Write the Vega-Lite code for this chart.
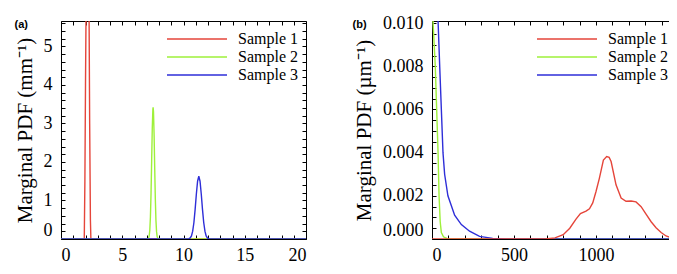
{
  "$schema": "https://vega.github.io/schema/vega-lite/v6.json",
  "padding": {"left": 14, "top": 14, "right": 0, "bottom": 0},
  "spacing": 45,
  "datasets": {
    "a": [
      {"sample": "Sample 1", "x": 0, "y": 0},
      {"sample": "Sample 1", "x": 1.9, "y": 0},
      {"sample": "Sample 1", "x": 1.95, "y": 1.5},
      {"sample": "Sample 1", "x": 2.0, "y": 4},
      {"sample": "Sample 1", "x": 2.06, "y": 6.5},
      {"sample": "Sample 1", "x": 2.12, "y": 8},
      {"sample": "Sample 1", "x": 2.2, "y": 8},
      {"sample": "Sample 1", "x": 2.28, "y": 6.5},
      {"sample": "Sample 1", "x": 2.34, "y": 3},
      {"sample": "Sample 1", "x": 2.4, "y": 0.5},
      {"sample": "Sample 1", "x": 2.44, "y": 0},
      {"sample": "Sample 1", "x": 20, "y": 0},
      {"sample": "Sample 2", "x": 0, "y": 0},
      {"sample": "Sample 2", "x": 7.0, "y": 0},
      {"sample": "Sample 2", "x": 7.1, "y": 0.005},
      {"sample": "Sample 2", "x": 7.15, "y": 0.022},
      {"sample": "Sample 2", "x": 7.2, "y": 0.079},
      {"sample": "Sample 2", "x": 7.25, "y": 0.234},
      {"sample": "Sample 2", "x": 7.3, "y": 0.577},
      {"sample": "Sample 2", "x": 7.35, "y": 1.18},
      {"sample": "Sample 2", "x": 7.4, "y": 2.01},
      {"sample": "Sample 2", "x": 7.45, "y": 2.86},
      {"sample": "Sample 2", "x": 7.5, "y": 3.37},
      {"sample": "Sample 2", "x": 7.52, "y": 3.42},
      {"sample": "Sample 2", "x": 7.55, "y": 3.31},
      {"sample": "Sample 2", "x": 7.6, "y": 2.7},
      {"sample": "Sample 2", "x": 7.65, "y": 1.84},
      {"sample": "Sample 2", "x": 7.7, "y": 1.04},
      {"sample": "Sample 2", "x": 7.75, "y": 0.489},
      {"sample": "Sample 2", "x": 7.8, "y": 0.191},
      {"sample": "Sample 2", "x": 7.85, "y": 0.062},
      {"sample": "Sample 2", "x": 7.9, "y": 0.017},
      {"sample": "Sample 2", "x": 7.95, "y": 0.004},
      {"sample": "Sample 2", "x": 8.05, "y": 0},
      {"sample": "Sample 2", "x": 20, "y": 0},
      {"sample": "Sample 3", "x": 0, "y": 0},
      {"sample": "Sample 3", "x": 10.1, "y": 0},
      {"sample": "Sample 3", "x": 10.25, "y": 0.0004},
      {"sample": "Sample 3", "x": 10.45, "y": 0.0078},
      {"sample": "Sample 3", "x": 10.55, "y": 0.027},
      {"sample": "Sample 3", "x": 10.65, "y": 0.081},
      {"sample": "Sample 3", "x": 10.75, "y": 0.202},
      {"sample": "Sample 3", "x": 10.85, "y": 0.429},
      {"sample": "Sample 3", "x": 10.95, "y": 0.769},
      {"sample": "Sample 3", "x": 11.05, "y": 1.167},
      {"sample": "Sample 3", "x": 11.15, "y": 1.5},
      {"sample": "Sample 3", "x": 11.25, "y": 1.63},
      {"sample": "Sample 3", "x": 11.35, "y": 1.5},
      {"sample": "Sample 3", "x": 11.45, "y": 1.167},
      {"sample": "Sample 3", "x": 11.55, "y": 0.769},
      {"sample": "Sample 3", "x": 11.65, "y": 0.429},
      {"sample": "Sample 3", "x": 11.75, "y": 0.202},
      {"sample": "Sample 3", "x": 11.85, "y": 0.081},
      {"sample": "Sample 3", "x": 11.95, "y": 0.027},
      {"sample": "Sample 3", "x": 12.05, "y": 0.0078},
      {"sample": "Sample 3", "x": 12.25, "y": 0.0004},
      {"sample": "Sample 3", "x": 12.4, "y": 0},
      {"sample": "Sample 3", "x": 20, "y": 0}
    ],
    "b": [
      {"sample": "Sample 2", "x": 0, "y": 0.03},
      {"sample": "Sample 2", "x": 6, "y": 0.0101},
      {"sample": "Sample 2", "x": 20, "y": 0.008},
      {"sample": "Sample 2", "x": 37, "y": 0.004},
      {"sample": "Sample 2", "x": 43, "y": 0.002},
      {"sample": "Sample 2", "x": 50, "y": 0.0008},
      {"sample": "Sample 2", "x": 57, "y": 0.0003},
      {"sample": "Sample 2", "x": 70, "y": 0.0001},
      {"sample": "Sample 2", "x": 97, "y": 0},
      {"sample": "Sample 2", "x": 1500, "y": 0},
      {"sample": "Sample 3", "x": 0, "y": 0.06},
      {"sample": "Sample 3", "x": 20, "y": 0.03},
      {"sample": "Sample 3", "x": 37, "y": 0.0101},
      {"sample": "Sample 3", "x": 47, "y": 0.008},
      {"sample": "Sample 3", "x": 57, "y": 0.006},
      {"sample": "Sample 3", "x": 67, "y": 0.004},
      {"sample": "Sample 3", "x": 77, "y": 0.003},
      {"sample": "Sample 3", "x": 97, "y": 0.002},
      {"sample": "Sample 3", "x": 138, "y": 0.0011},
      {"sample": "Sample 3", "x": 179, "y": 0.00067},
      {"sample": "Sample 3", "x": 229, "y": 0.00036},
      {"sample": "Sample 3", "x": 290, "y": 0.00012},
      {"sample": "Sample 3", "x": 370, "y": 0.00003},
      {"sample": "Sample 3", "x": 450, "y": 0},
      {"sample": "Sample 3", "x": 1500, "y": 0},
      {"sample": "Sample 1", "x": 0, "y": 0},
      {"sample": "Sample 1", "x": 690, "y": 0},
      {"sample": "Sample 1", "x": 750, "y": 0.00005},
      {"sample": "Sample 1", "x": 800, "y": 0.0002},
      {"sample": "Sample 1", "x": 840, "y": 0.0005},
      {"sample": "Sample 1", "x": 878, "y": 0.00092},
      {"sample": "Sample 1", "x": 905, "y": 0.00118},
      {"sample": "Sample 1", "x": 939, "y": 0.00129},
      {"sample": "Sample 1", "x": 960, "y": 0.0014},
      {"sample": "Sample 1", "x": 980, "y": 0.00167},
      {"sample": "Sample 1", "x": 1000, "y": 0.0022},
      {"sample": "Sample 1", "x": 1020, "y": 0.0028},
      {"sample": "Sample 1", "x": 1045, "y": 0.00366},
      {"sample": "Sample 1", "x": 1065, "y": 0.00382},
      {"sample": "Sample 1", "x": 1080, "y": 0.00378},
      {"sample": "Sample 1", "x": 1092, "y": 0.00359},
      {"sample": "Sample 1", "x": 1122, "y": 0.00251},
      {"sample": "Sample 1", "x": 1153, "y": 0.0019},
      {"sample": "Sample 1", "x": 1183, "y": 0.00175},
      {"sample": "Sample 1", "x": 1214, "y": 0.00176},
      {"sample": "Sample 1", "x": 1244, "y": 0.00172},
      {"sample": "Sample 1", "x": 1275, "y": 0.0015},
      {"sample": "Sample 1", "x": 1305, "y": 0.00115},
      {"sample": "Sample 1", "x": 1336, "y": 0.0008},
      {"sample": "Sample 1", "x": 1366, "y": 0.00052},
      {"sample": "Sample 1", "x": 1397, "y": 0.0003},
      {"sample": "Sample 1", "x": 1427, "y": 0.00014},
      {"sample": "Sample 1", "x": 1460, "y": 0.00005},
      {"sample": "Sample 1", "x": 1500, "y": 0.00001}
    ]
  },
  "resolve": {"scale": {"color": "independent"}, "legend": {"color": "independent"}},
  "hconcat": [
    {
      "width": 245,
      "height": 218,
      "data": {"name": "a"},
      "resolve": {"axis": {"x": "independent", "y": "independent"}},
      "layer": [
        {
          "mark": {"type": "line", "clip": true, "strokeWidth": 1.4},
          "encoding": {
            "x": {"field": "x", "type": "quantitative", "scale": {"domain": [0, 20], "nice": false, "zero": false},
              "axis": {"title": null, "values": [0,1,2,3,4,5,6,7,8,9,10,11,12,13,14,15,16,17,18,19,20],
                "labelExpr": "datum.value % 5 === 0 ? datum.label : ''",
                "labelPadding": 11}},
            "y": {"field": "y", "type": "quantitative", "scale": {"domain": [0, 5.66], "nice": false},
              "axis": {"title": "Marginal PDF (mm⁻¹)",
                "values": [0,0.2,0.4,0.6,0.8,1,1.2,1.4,1.6,1.8,2,2.2,2.4,2.6,2.8,3,3.2,3.4,3.6,3.8,4,4.2,4.4,4.6,4.8,5,5.2,5.4,5.6],
                "labelExpr": "abs(datum.value - round(datum.value)) < 0.001 ? format(datum.value, 'd') : ''",
                "labelFlush": true, "labelPadding": 13, "titlePadding": 8}},
            "color": {"field": "sample", "type": "nominal",
              "scale": {"domain": ["Sample 1", "Sample 2", "Sample 3"], "range": ["#e5453a", "#9ef03a", "#2e2ed8"]},
              "legend": {"legendX": 127, "legendY": 9}}
          }
        },
        {
          "mark": {"type": "line", "opacity": 0, "clip": true},
          "encoding": {
            "x": {"field": "x", "type": "quantitative", "scale": {"domain": [0, 20], "nice": false, "zero": false},
              "axis": {"orient": "top", "title": "(a)", "titleX": -47, "titleY": 3, "titleAlign": "left", "titleBaseline": "middle", "titleFont": "Liberation Sans", "titleFontSize": 11, "titleFontWeight": "bold",
                "labels": false, "values": [0,1,2,3,4,5,6,7,8,9,10,11,12,13,14,15,16,17,18,19,20]}},
            "y": {"field": "y", "type": "quantitative", "scale": {"domain": [0, 5.66], "nice": false},
              "axis": {"orient": "right", "title": null, "labels": false,
                "values": [0,0.2,0.4,0.6,0.8,1,1.2,1.4,1.6,1.8,2,2.2,2.4,2.6,2.8,3,3.2,3.4,3.6,3.8,4,4.2,4.4,4.6,4.8,5,5.2,5.4,5.6]}}
          }
        }
      ]
    },
    {
      "width": 237,
      "height": 218,
      "data": {"name": "b"},
      "resolve": {"axis": {"x": "independent", "y": "independent"}},
      "layer": [
        {
          "mark": {"type": "line", "clip": true, "strokeWidth": 1.4},
          "encoding": {
            "x": {"field": "x", "type": "quantitative", "scale": {"domain": [0, 1445], "nice": false, "zero": false},
              "axis": {"title": null, "values": [0,100,200,300,400,500,600,700,800,900,1000,1100,1200,1300,1400],
                "labelExpr": "datum.value % 500 === 0 ? datum.label : ''",
                "format": "d",
                "labelPadding": 11}},
            "y": {"field": "y", "type": "quantitative", "scale": {"domain": [0, 0.0101], "nice": false},
              "axis": {"title": "Marginal PDF (µm⁻¹)",
                "values": [0,0.0005,0.001,0.0015,0.002,0.0025,0.003,0.0035,0.004,0.0045,0.005,0.0055,0.006,0.0065,0.007,0.0075,0.008,0.0085,0.009,0.0095,0.01],
                "labelExpr": "abs(datum.value/0.002 - round(datum.value/0.002)) < 0.01 ? format(datum.value, '.3f') : ''",
                "labelFlush": true, "labelPadding": 13, "titlePadding": 8}},
            "color": {"field": "sample", "type": "nominal",
              "scale": {"domain": ["Sample 1", "Sample 2", "Sample 3"], "range": ["#e5453a", "#9ef03a", "#2e2ed8"]},
              "legend": {"legendX": 126, "legendY": 9}}
          }
        },
        {
          "mark": {"type": "line", "opacity": 0, "clip": true},
          "encoding": {
            "x": {"field": "x", "type": "quantitative", "scale": {"domain": [0, 1445], "nice": false, "zero": false},
              "axis": {"orient": "top", "title": "(b)", "titleX": -80, "titleY": 3, "titleAlign": "left", "titleBaseline": "middle", "titleFont": "Liberation Sans", "titleFontSize": 11, "titleFontWeight": "bold",
                "labels": false, "values": [0,100,200,300,400,500,600,700,800,900,1000,1100,1200,1300,1400]}},
            "y": {"field": "y", "type": "quantitative", "scale": {"domain": [0, 0.0101], "nice": false}, "axis": null}
          }
        }
      ]
    }
  ],
  "config": {
    "view": {"stroke": null},
    "axis": {"labelFont": "Liberation Serif", "labelFontSize": 18, "labelColor": "#000", "titleFont": "Liberation Serif", "titleFontSize": 21, "titleFontWeight": "normal", "titleColor": "#000", "domainColor": "#000", "tickColor": "#000", "grid": false, "tickSize": -4},
    "legend": {"orient": "none", "title": null, "padding": 0, "symbolType": "M-3.75,0H3.75", "symbolSize": 256, "symbolStrokeWidth": 1.5, "symbolFillColor": "transparent", "labelFont": "Liberation Serif", "labelFontSize": 16, "labelColor": "#000", "labelOffset": 32, "rowPadding": 1}
  }
}
